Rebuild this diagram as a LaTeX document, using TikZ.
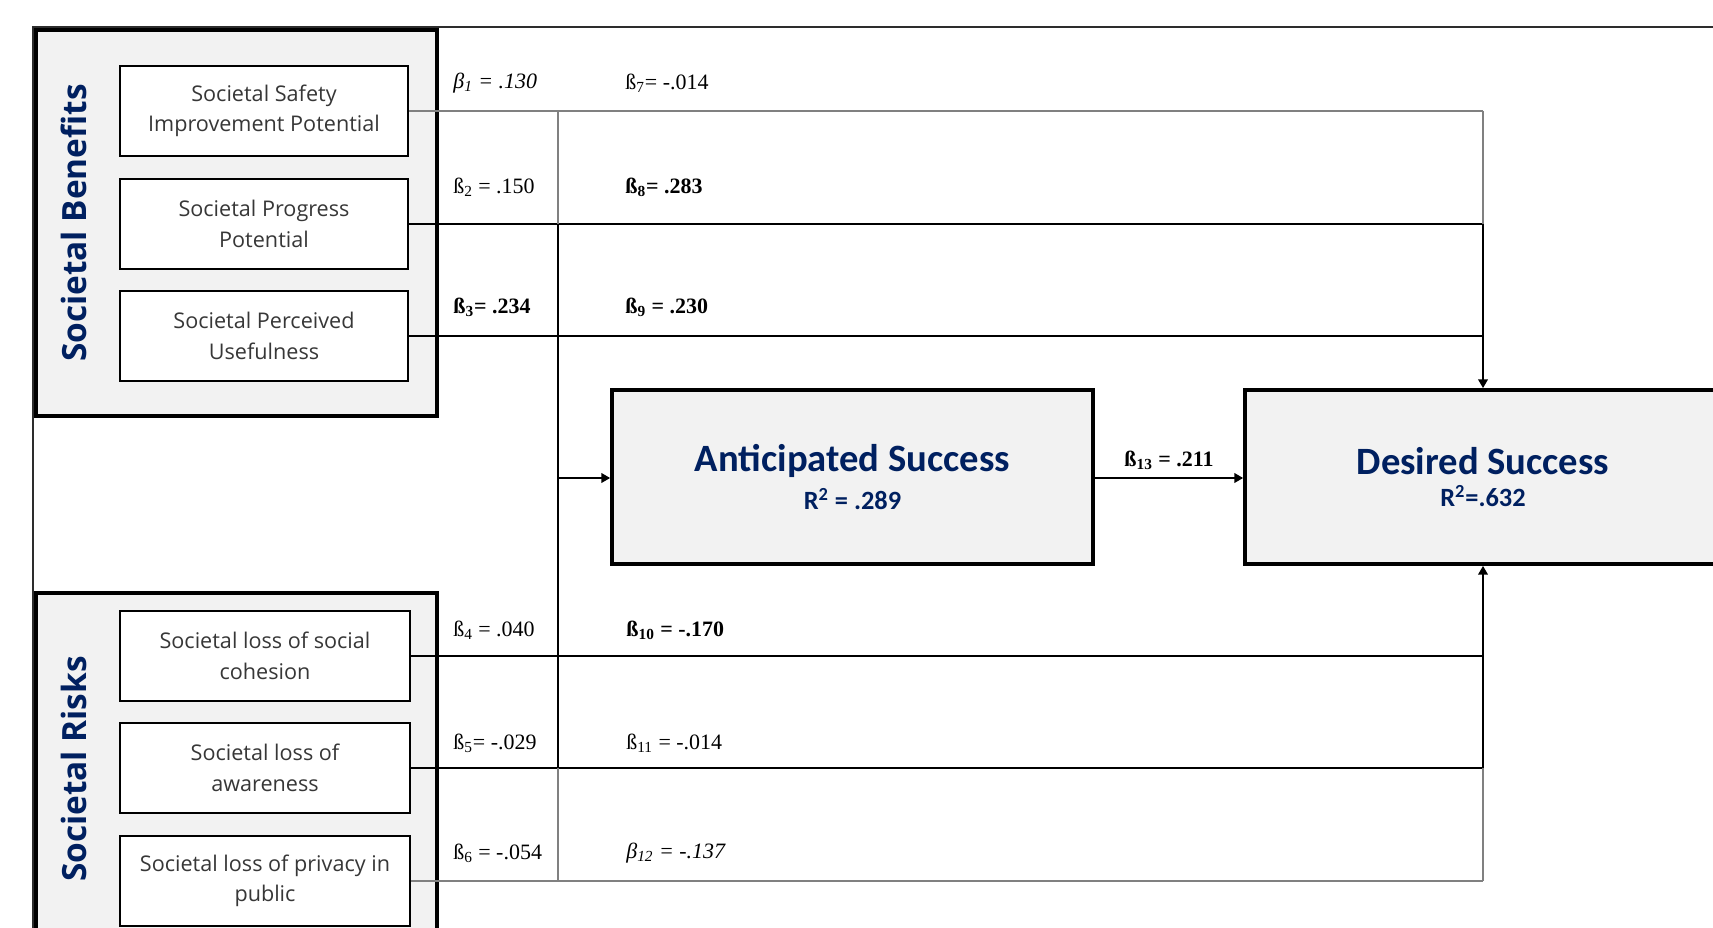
\documentclass[tikz,border=0pt]{standalone}
\usepackage{fontspec}
\setmainfont{Liberation Serif}
\newfontfamily\itemfont{Open Sans}
\newfontfamily\succfont{Carlito}
\usepackage{tikz}
\usetikzlibrary{
  arrows.meta,
  calc,
  positioning
}
\usepackage{xcolor}
\definecolor{navyblue}{RGB}{0, 32, 96}
\definecolor{groupfill}{RGB}{242, 242, 242}
\definecolor{linegray}{RGB}{128, 128, 128}
\definecolor{framegray}{RGB}{45, 45, 45}
\definecolor{itemtext}{RGB}{55, 55, 55}
\tikzset{
  % Guruh ramkalari
  groupbox/.style   = {draw=black, line width=1.8pt, fill=groupfill, minimum width=8.02cm, inner sep=0pt},
  grouptitle/.style = {rotate=90, text=navyblue, font=\itemfont\bfseries\fontsize{19}{22}\selectfont},
  % Omillar
  itembox/.style    = {draw=black, line width=1.1pt, fill=white, minimum height=1.8cm, align=center,
                       inner sep=2pt, text=itemtext, font=\itemfont\fontsize{12.3}{17.4}\selectfont},
  % Natijalar
  succbox/.style    = {draw=black, line width=2.2pt, fill=groupfill, minimum height=3.48cm, align=center,
                       text=navyblue, font=\succfont\bfseries},
  % Yo'llar
  pathblack/.style  = {line width=0.7pt, black},
  pathbold/.style   = {line width=1.1pt, black},
  pathgray/.style   = {line width=0.7pt, linegray},
  patharrow/.style  = {-{Triangle[length=5pt,width=5.5pt]}, line width=1pt, black},
  % Koeffitsientlar
  coef/.style       = {anchor=west, inner sep=0pt, font=\fontsize{12.5}{14}\selectfont},
}

\begin{document}
\begin{tikzpicture}[x=0.02cm,y=-0.02cm]
  \useasboundingbox (0,0) rectangle (1713,928);
  \clip (0,0) rectangle (1713,928);
  % Tashqi ramka
  \draw[framegray, line width=1.2pt] (1713,27) -- (33,27) -- (33,928);
  % Guruhlar
  \node[groupbox, minimum height=7.72cm] (benefits) at (236.5,223) {};
  \node[groupbox, minimum height=7.34cm] (risks) at (236.5,776.5) {};
  \node[grouptitle] (benefitsT) at (74,223) {Societal Benefits};
  \node[grouptitle] (risksT) at (74,769) {Societal Risks};
  % Omillar
  \node[itembox, minimum width=5.76cm] (b1) at (264,111) {Societal Safety\\Improvement Potential};
  \node[itembox, minimum width=5.76cm] (b2) at (264,224) {Societal Progress\\Potential};
  \node[itembox, minimum width=5.76cm] (b3) at (264,336) {Societal Perceived\\Usefulness};
  \node[itembox, minimum width=5.8cm] (b4) at (265,656) {Societal loss of social\\cohesion};
  \node[itembox, minimum width=5.8cm] (b5) at (265,768) {Societal loss of\\awareness};
  \node[itembox, minimum width=5.8cm] (b6) at (265,881) {Societal loss of privacy in\\public};
  % Natijalar
  \node[succbox, minimum width=9.62cm] (ant) at (852.5,477)
    {\fontsize{22}{26}\selectfont Anticipated Success\\[5pt]\fontsize{15}{18}\selectfont R\textsuperscript{2} = .289};
  \node[succbox, minimum width=9.52cm] (des) at (1483,477)
    {\fontsize{22}{26}\selectfont Desired Success\\[5pt]\fontsize{15}{18}\selectfont R\textsuperscript{2}=.632};
  \coordinate (jn) at (558,478);
  % Gorizontal yo'llar
  \draw[pathgray]  (b1.east) -- (b1.east -| des.north);
  \draw[pathblack] (b2.east) -- (b2.east -| des.north);
  \draw[pathblack] (b3.east) -- (b3.east -| des.north);
  \draw[pathblack] (b4.east) -- (b4.east -| des.south);
  \draw[pathbold]  (b5.east) -- (b5.east -| des.south);
  \draw[pathgray]  (b6.east) -- (b6.east -| des.south);
  % Vertikal yo'llar
  \draw[pathgray]  (b1.east -| jn) -- (b2.east -| jn);
  \draw[pathbold]  (b2.east -| jn) -- (b5.east -| jn);
  \draw[pathgray]  (b5.east -| jn) -- (b6.east -| jn);
  \draw[pathgray]  (b1.east -| des.north) -- (b2.east -| des.north);
  \draw[patharrow] (b2.east -| des.north) -- (des.north);
  \draw[pathgray]  (b6.east -| des.south) -- (b5.east -| des.south);
  \draw[patharrow] (b5.east -| des.south) -- (des.south);
  \draw[patharrow] (jn) -- (jn -| ant.west);
  \draw[patharrow] (ant.east |- jn) -- (des.west |- jn)
    node[midway, above=4pt, inner sep=0pt, font=\fontsize{12.5}{14}\selectfont] (k13) {\textbf{ß\textsubscript{13} = .211}};
  % Koeffitsientlar
  \node[coef] (k1) at (453,83) {\textit{β\textsubscript{1} = .130}};
  \node[coef] (k2) at (453,187) {ß\textsubscript{2} = .150};
  \node[coef] (k3) at (453,307) {\textbf{ß\textsubscript{3}= .234}};
  \node[coef] (k4) at (453,630) {ß\textsubscript{4} = .040};
  \node[coef] (k5) at (453,743) {ß\textsubscript{5}= -.029};
  \node[coef] (k6) at (453,853) {ß\textsubscript{6} = -.054};
  \node[coef] (k7) at (625,83) {ß\textsubscript{7}= -.014};
  \node[coef] (k8) at (625,187) {\textbf{ß\textsubscript{8}= .283}};
  \node[coef] (k9) at (625,307) {\textbf{ß\textsubscript{9} = .230}};
  \node[coef] (k10) at (626,630) {\textbf{ß\textsubscript{10} = -.170}};
  \node[coef] (k11) at (626,743) {ß\textsubscript{11} = -.014};
  \node[coef] (k12) at (626,853) {\textit{β\textsubscript{12} = -.137}};
\end{tikzpicture}
\end{document}
